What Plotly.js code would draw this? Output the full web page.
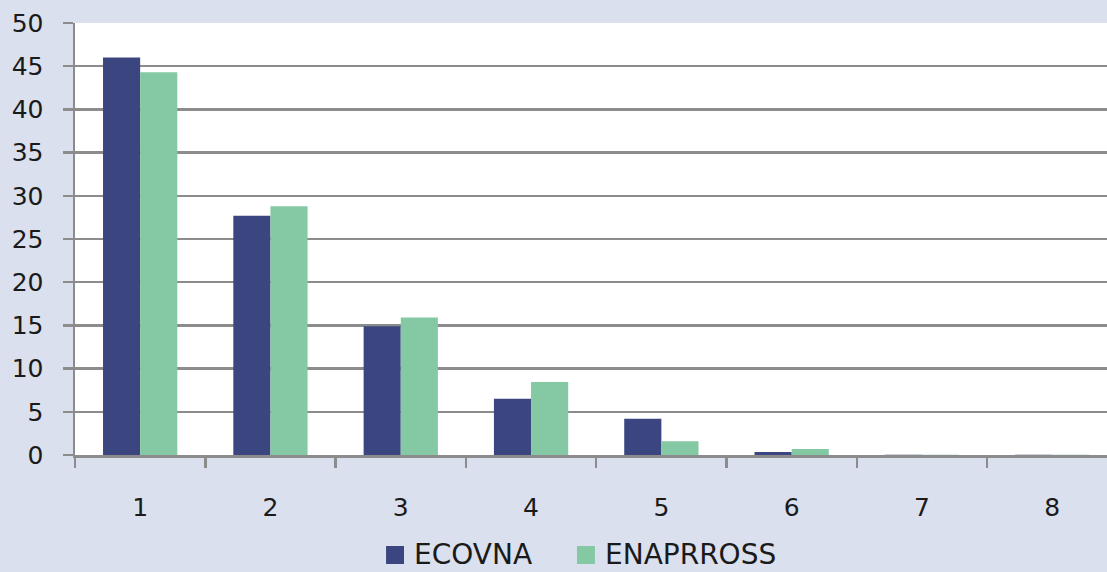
<!DOCTYPE html>
<html>
<head>
<meta charset="utf-8">
<script src="https://cdn.plot.ly/plotly-3.0.1.min.js"></script>
<style>html,body{margin:0;padding:0;background:#DAE0EE;}#chart{width:1107px;height:572px;}</style>
</head>
<body>
<div id="chart"></div>
<script>
const categories = ['1','2','3','4','5','6','7','8'];
const ecovna = [46.0, 27.7, 14.9, 6.5, 4.2, 0.35, 0.03, 0.03];
const enaprross = [44.3, 28.8, 15.9, 8.45, 1.6, 0.7, 0.03, 0.03];
const seriesNames = ['ECOVNA', 'ENAPRROSS'];
const seriesColors = ['#3B4681', '#84C8A4'];

const traces = [
  {type:'bar', name:seriesNames[0], x:categories, y:ecovna, marker:{color:seriesColors[0]}},
  {type:'bar', name:seriesNames[1], x:categories, y:enaprross, marker:{color:seriesColors[1]}}
];
const font = {family:'DejaVu Sans, sans-serif', size:25, color:'#1a1a1a'};
const legendFont = {family:'DejaVu Sans, sans-serif', size:28, color:'#1a1a1a'};

// manual legend (paper coordinates)
const legendX = [0.3014, 0.4864];
const shapes = [], annotations = [];
seriesNames.forEach(function(n, i){
  shapes.push({type:'rect', xref:'paper', yref:'paper', x0:legendX[i], x1:legendX[i]+0.0174,
               y0:-0.2523, y1:-0.2106, fillcolor:seriesColors[i], line:{width:0}});
  annotations.push({xref:'paper', yref:'paper', x:legendX[i]+0.026, y:-0.2292, xanchor:'left', yanchor:'middle',
                    text:n, showarrow:false, font:legendFont, borderpad:0});
});

const layout = {
  width:1107, height:572,
  paper_bgcolor:'#DAE0EE', plot_bgcolor:'#FFFFFF',
  margin:{l:75, r:0, t:23, b:117},
  font:font,
  barmode:'group', bargap:0.43, bargroupgap:0,
  showlegend:false,
  xaxis:{type:'category', range:[-0.5, 7.42], showgrid:false, showline:true, linecolor:'#8C8C8C', linewidth:2.5,
         ticks:'outside', tickson:'boundaries', ticklen:10, tickwidth:2.5, tickcolor:'#8C8C8C',
         ticklabelstandoff:28, tickfont:font, automargin:false},
  yaxis:{range:[0,50], dtick:5, showgrid:true, gridcolor:'#8C8C8C', gridwidth:2.5, zeroline:false,
         showline:true, linecolor:'#8C8C8C', linewidth:2.5, ticks:'outside', ticklen:10, tickwidth:2.5,
         tickcolor:'#8C8C8C', ticklabelstandoff:14, tickfont:font, automargin:false},
  shapes:shapes,
  annotations:annotations
};
Plotly.newPlot('chart', traces, layout, {staticPlot:true});
</script>
</body>
</html>
